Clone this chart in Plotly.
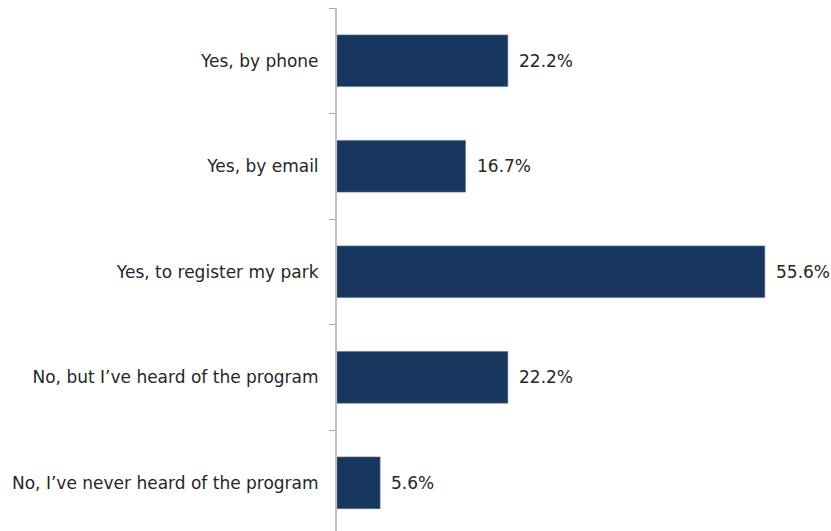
import plotly.graph_objects as go

# Survey responses and their shares (%)
categories = [
    "Yes, by phone",
    "Yes, by email",
    "Yes, to register my park",
    "No, but I\u2019ve heard of the program",
    "No, I\u2019ve never heard of the program",
]
shares = [22.2, 16.7, 55.6, 22.2, 5.6]
value_labels = [f"{v:.1f}%" for v in shares]

BAR_COLOR = "#17375E"
TEXT_COLOR = "#262626"
FONT = "DejaVu Sans, Liberation Sans, Arial, sans-serif"
FONT_SIZE = 17

fig = go.Figure(
    go.Bar(
        x=shares,
        y=categories,
        orientation="h",
        width=0.49,
        marker=dict(color=BAR_COLOR, line=dict(color="#5a7291", width=0.6)),
        hoverinfo="skip",
    )
)

# Value labels placed just to the right of each bar end
for cat, val, lab in zip(categories, shares, value_labels):
    fig.add_annotation(
        x=val, y=cat, text=lab, showarrow=False,
        xanchor="left", yanchor="middle", xshift=9,
        font=dict(family=FONT, size=FONT_SIZE, color=TEXT_COLOR),
    )

fig.update_layout(
    width=831,
    height=531,
    margin=dict(l=337, r=0, t=8, b=0),
    paper_bgcolor="white",
    plot_bgcolor="white",
    showlegend=False,
    font=dict(family=FONT, size=FONT_SIZE, color=TEXT_COLOR),
    xaxis=dict(
        range=[0, 64.2],
        visible=False,
        showgrid=False,
        zeroline=False,
    ),
    yaxis=dict(
        type="category",
        categoryorder="array",
        categoryarray=categories,
        range=[4.457, -0.5],
        showline=True,
        linecolor="#bfbfbf",
        linewidth=2,
        ticks="outside",
        ticklen=6,
        tickwidth=1,
        tickcolor="#a6a6a6",
        tickson="boundaries",
        ticklabelstandoff=13,
        showgrid=False,
        zeroline=False,
        tickfont=dict(family=FONT, size=FONT_SIZE, color=TEXT_COLOR),
    ),
)

fig.write_html("out.html")
